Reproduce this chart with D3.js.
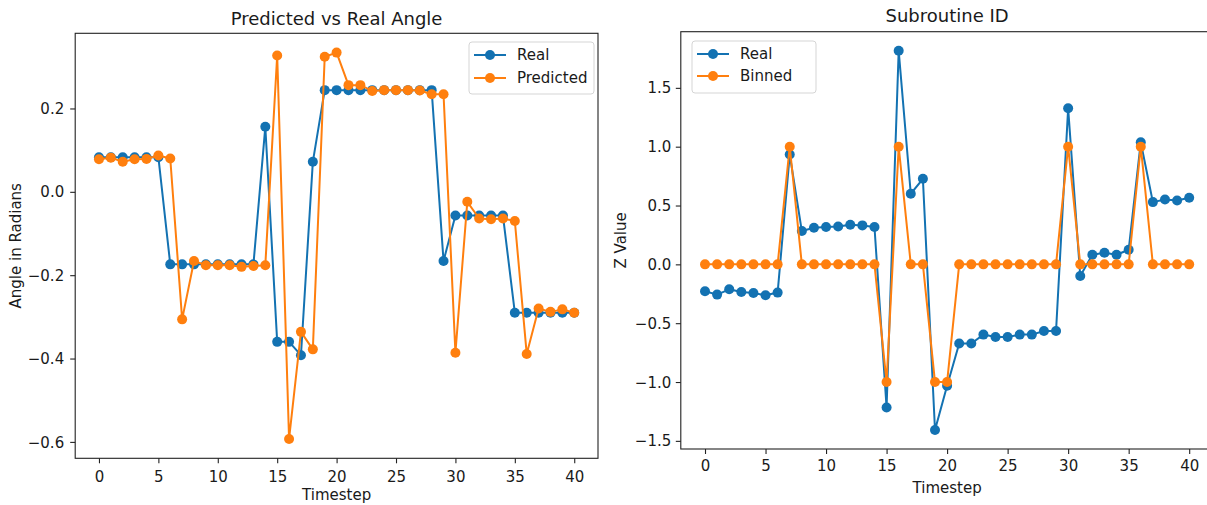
<!DOCTYPE html>
<html>
<head>
<meta charset="utf-8">
<script src="https://cdn.jsdelivr.net/npm/d3@7"></script>
<style>
  html, body { margin: 0; padding: 0; background: #fff; }
  svg { display: block; }
  text { font-family: "DejaVu Sans", sans-serif; fill: #1a1a1a; }
</style>
</head>
<body>
<svg id="chart" width="1207" height="505"></svg>
<script>
// timesteps shared by both panels
var timesteps = d3.range(0, 41);

// left panel: predicted vs real angle
var angleReal = [0.083, 0.083, 0.083, 0.083, 0.083, 0.083, -0.174, -0.174, -0.174, -0.174,
  -0.174, -0.174, -0.174, -0.174, 0.156, -0.36, -0.36, -0.392, 0.072, 0.244,
  0.244, 0.244, 0.244, 0.244, 0.244, 0.244, 0.244, 0.244, 0.244, -0.166,
  -0.057, -0.057, -0.057, -0.057, -0.057, -0.29, -0.29, -0.29, -0.29, -0.29, -0.29];
var anglePred = [0.078, 0.082, 0.072, 0.078, 0.079, 0.087, 0.08, -0.306, -0.166, -0.176,
  -0.176, -0.176, -0.18, -0.178, -0.176, 0.327, -0.593, -0.336, -0.378, 0.324,
  0.334, 0.256, 0.256, 0.242, 0.244, 0.244, 0.244, 0.243, 0.234, 0.234,
  -0.386, -0.024, -0.064, -0.066, -0.064, -0.07, -0.389, -0.28, -0.288, -0.282, -0.29];
var angleTicks = [-0.6, -0.4, -0.2, 0.0, 0.2];

// right panel: subroutine id
var zReal = [-0.229, -0.257, -0.212, -0.235, -0.243, -0.263, -0.24, 0.933, 0.283, 0.311,
  0.317, 0.322, 0.337, 0.331, 0.317, -1.216, 1.816, 0.6, 0.727, -1.408,
  -1.032, -0.673, -0.673, -0.597, -0.617, -0.617, -0.597, -0.597, -0.566, -0.566,
  1.326, -0.099, 0.082, 0.099, 0.082, 0.124, 1.038, 0.529, 0.551, 0.543, 0.566];
var zBinned = [0, 0, 0, 0, 0, 0, 0, 1, 0, 0,
  0, 0, 0, 0, 0, -1, 1, 0, 0, -1,
  -1, 0, 0, 0, 0, 0, 0, 0, 0, 0,
  1, 0, 0, 0, 0, 0, 1, 0, 0, 0, 0];
var zTicks = [-1.5, -1.0, -0.5, 0.0, 0.5, 1.0, 1.5];

var xTicks = [0, 5, 10, 15, 20, 25, 30, 35, 40];

var BLUE = "#1372b2", ORANGE = "#ff7f0e";

var svg = d3.select("#chart");

function fmt(v) {
  return d3.format(".1f")(v).replace("-", "\u2212");
}

function panel(o) {
  var g = svg.append("g");
  var x = d3.scaleLinear().domain([-2, 42]).range([o.left, o.right]);
  var all = o.series.reduce(function(a, s) { return a.concat(s.values); }, []);
  var ext = d3.extent(all), pad = (ext[1] - ext[0]) * 0.05;
  var y = d3.scaleLinear().domain([ext[0] - pad, ext[1] + pad]).range([o.bottom, o.top]);

  // axes
  var xa = g.append("g").attr("transform", "translate(0," + o.bottom + ")")
    .call(d3.axisBottom(x).tickValues(xTicks).tickSize(5).tickSizeOuter(0).tickFormat(d3.format("d")));
  xa.selectAll("text").attr("y", o.xLabOff).attr("dy", "0.71em");
  var ya = g.append("g").attr("transform", "translate(" + o.left + ",0)")
    .call(d3.axisLeft(y).tickValues(o.yTicks).tickSize(5).tickSizeOuter(0).tickFormat(fmt));
  ya.selectAll("text").attr("x", -o.yLabOff).attr("dy", "0.34em");
  g.selectAll(".domain").remove();
  g.selectAll(".tick line").attr("stroke", "#222").attr("stroke-width", 1.1);
  g.selectAll(".tick text").style("font-size", "15px").style("font-family", "DejaVu Sans").attr("fill", "#1a1a1a");

  // series
  var line = d3.line().x(function(d, i) { return x(timesteps[i]); }).y(function(d) { return y(d); });
  o.series.forEach(function(s) {
    g.append("path").attr("d", line(s.values)).attr("fill", "none")
      .attr("stroke", s.color).attr("stroke-width", 2).attr("stroke-linejoin", "round");
    g.selectAll(null).data(s.values).enter().append("circle")
      .attr("cx", function(d, i) { return x(timesteps[i]); })
      .attr("cy", function(d) { return y(d); })
      .attr("r", 5).attr("fill", s.color);
  });

  // frame
  g.append("rect").attr("x", o.left).attr("y", o.top)
    .attr("width", o.right - o.left).attr("height", o.bottom - o.top)
    .attr("fill", "none").attr("stroke", "#222").attr("stroke-width", 1.1);

  // legend
  var L = o.legend;
  g.append("rect").attr("x", L.x).attr("y", L.y).attr("width", L.w).attr("height", L.h)
    .attr("rx", 3).attr("fill", "#fff").attr("fill-opacity", 0.8)
    .attr("stroke", "#d5d5d5").attr("stroke-width", 1);
  o.series.forEach(function(s, i) {
    var cy = L.y + L.row0 + i * L.step;
    g.append("line").attr("x1", L.x + 5).attr("x2", L.x + 37).attr("y1", cy).attr("y2", cy)
      .attr("stroke", s.color).attr("stroke-width", 2);
    g.append("circle").attr("cx", L.x + 21).attr("cy", cy).attr("r", 5).attr("fill", s.color);
    g.append("text").attr("x", L.x + 48).attr("y", cy)
      .attr("dy", "0.36em").style("font-size", "15px").text(s.name);
  });

  // titles and labels
  var cx = (o.left + o.right) / 2;
  g.append("text").attr("x", cx).attr("y", o.titleY)
    .attr("text-anchor", "middle").style("font-size", "18px").text(o.title);
  g.append("text").attr("x", cx).attr("y", o.xTitleY)
    .attr("text-anchor", "middle").style("font-size", "15px").text("Timestep");
  g.append("text").attr("transform", "translate(" + o.yTitleX + "," + ((o.top + o.bottom) / 2) + ") rotate(-90)")
    .attr("text-anchor", "middle").attr("dy", "0.36em").style("font-size", "15px").text(o.yTitle);
}

panel({
  left: 75.2, right: 598, top: 33.3, bottom: 458.3,
  yTicks: angleTicks, xLabOff: 13, yLabOff: 11,
  series: [{ name: "Real", values: angleReal, color: BLUE },
           { name: "Predicted", values: anglePred, color: ORANGE }],
  legend: { x: 469, y: 42, w: 125, h: 52, row0: 13, step: 23 },
  title: "Predicted vs Real Angle", titleY: 25, xTitleY: 500,
  yTitle: "Angle in Radians", yTitleX: 16
});

panel({
  left: 680.8, right: 1213.4, top: 31.7, bottom: 449,
  yTicks: zTicks, xLabOff: 11, yLabOff: 9.5,
  series: [{ name: "Real", values: zReal, color: BLUE },
           { name: "Binned", values: zBinned, color: ORANGE }],
  legend: { x: 692, y: 41, w: 124, h: 52, row0: 13, step: 22 },
  title: "Subroutine ID", titleY: 21.7, xTitleY: 492.5,
  yTitle: "Z Value", yTitleX: 621
});
</script>
</body>
</html>
